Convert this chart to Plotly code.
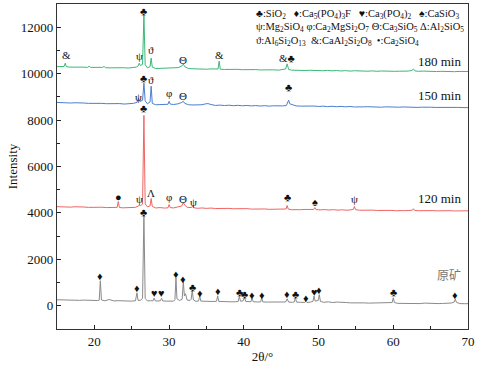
import plotly.graph_objects as go

# ---------------- data ----------------
gray_x = [
    15.0, 15.6, 16.2, 16.8, 17.4, 18.0, 18.6, 19.2, 19.8, 20.4,
    20.65, 20.8, 20.95, 21.4, 22.0, 22.6, 23.2, 23.8, 24.4, 25.0,
    25.5, 25.7, 25.85, 26.2, 26.45, 26.63, 26.8, 27.1, 27.5, 27.85,
    28.0, 28.15, 28.5, 28.85, 29.0, 29.15, 29.6, 30.1, 30.6, 30.78,
    30.92, 31.05, 31.4, 31.75, 31.9, 32.05, 32.2, 32.4, 32.8, 32.95,
    33.1, 33.25, 33.6, 33.95, 34.1, 34.25, 34.8, 35.4, 36.0, 36.35,
    36.5, 36.65, 37.2, 37.8, 38.4, 38.9, 39.25, 39.4, 39.55, 39.9,
    40.1, 40.25, 40.6, 40.95, 41.1, 41.25, 41.8, 42.25, 42.4, 42.55,
    43.2, 43.8, 44.4, 45.0, 45.6, 45.8, 46.0, 46.5, 46.75, 46.9,
    47.05, 47.6, 48.15, 48.3, 48.45, 48.9, 49.25, 49.4, 49.55, 49.95,
    50.1, 50.25, 50.7, 51.3, 51.9, 52.5, 53.1, 53.7, 54.3, 54.9,
    55.5, 56.1, 56.7, 57.3, 57.9, 58.5, 59.1, 59.6, 59.85, 60.0,
    60.15, 60.6, 61.2, 61.8, 62.4, 63.0, 63.6, 64.2, 64.8, 65.4,
    66.0, 66.6, 67.2, 67.8, 68.15, 68.3, 68.45, 68.9, 69.5, 70.0]
gray_y = [
    260, 250, 255, 240, 250, 235, 245, 230, 240, 225,
    240, 1080, 250, 215, 270, 210, 220, 205, 215, 200,
    215, 560, 230, 240, 330, 3900, 320, 210, 220, 215,
    330, 210, 205, 220, 320, 210, 200, 215, 200, 260,
    1200, 300, 230, 280, 1040, 420, 520, 250, 230, 280,
    650, 250, 190, 210, 430, 200, 190, 180, 185, 200,
    430, 190, 175, 180, 170, 175, 190, 400, 200, 210,
    360, 190, 170, 175, 330, 175, 165, 170, 330, 165,
    160, 165, 155, 160, 165, 300, 160, 150, 165, 350,
    160, 150, 145, 190, 140, 160, 190, 420, 200, 230,
    480, 190, 150, 170, 140, 160, 135, 140, 125, 135,
    120, 125, 115, 120, 110, 115, 105, 110, 140, 345,
    140, 105, 100, 110, 100, 105, 95, 115, 100, 105,
    95, 100, 95, 120, 160, 290, 150, 95, 90, 90]

red_x = [
    15.0, 15.6, 16.2, 16.8, 17.4, 18.0, 18.6, 19.2, 19.8, 20.4,
    21.0, 21.6, 22.2, 22.8, 23.05, 23.2, 23.35, 23.8, 24.4, 25.0,
    25.5, 25.85, 26.0, 26.15, 26.45, 26.63, 26.8, 27.1, 27.45, 27.6,
    27.75, 28.2, 28.8, 29.4, 29.85, 30.0, 30.15, 30.6, 31.2, 31.7,
    31.9, 32.1, 32.5, 33.05, 33.2, 33.35, 33.8, 34.4, 35.0, 35.6,
    36.2, 36.8, 37.4, 38.0, 38.6, 39.2, 39.8, 40.4, 41.0, 41.6,
    42.2, 42.8, 43.4, 44.0, 44.6, 45.2, 45.65, 45.8, 45.95, 46.4,
    47.0, 47.6, 48.2, 48.8, 49.35, 49.5, 49.65, 50.2, 50.8, 51.4,
    52.0, 52.6, 53.2, 53.8, 54.4, 54.65, 54.8, 54.95, 55.5, 56.1,
    56.7, 57.3, 57.9, 58.5, 59.1, 59.7, 60.3, 60.9, 61.5, 62.1,
    62.55, 62.7, 62.85, 63.4, 64.0, 64.6, 65.2, 65.8, 66.4, 67.0,
    67.6, 68.2, 68.8, 69.4, 70.0]
red_y = [
    4270, 4260, 4275, 4250, 4265, 4245, 4255, 4240, 4250, 4235,
    4245, 4230, 4240, 4225, 4240, 4490, 4235, 4220, 4230, 4215,
    4240, 4290, 4330, 4310, 4380, 8200, 4390, 4260, 4300, 4620,
    4280, 4215, 4230, 4210, 4220, 4360, 4230, 4215, 4250, 4300,
    4450, 4330, 4230, 4240, 4320, 4220, 4200, 4215, 4195, 4210,
    4190, 4200, 4185, 4195, 4180, 4190, 4170, 4185, 4165, 4175,
    4160, 4170, 4155, 4165, 4150, 4160, 4170, 4320, 4165, 4140,
    4155, 4140, 4150, 4135, 4150, 4230, 4145, 4130, 4145, 4125,
    4140, 4120, 4135, 4115, 4130, 4150, 4280, 4140, 4115, 4125,
    4110, 4120, 4105, 4115, 4100, 4110, 4095, 4110, 4100, 4105,
    4120, 4180, 4110, 4095, 4105, 4090, 4100, 4090, 4100, 4090,
    4095, 4085, 4095, 4085, 4090]

blue_x = [
    15.0, 15.6, 16.2, 16.8, 17.4, 18.0, 18.6, 19.2, 19.8, 20.4,
    21.0, 21.6, 22.2, 22.8, 23.4, 24.0, 24.6, 25.2, 25.7, 25.9,
    26.1, 26.45, 26.63, 26.8, 27.1, 27.45, 27.6, 27.75, 28.2, 28.8,
    29.4, 29.85, 30.0, 30.15, 30.6, 31.2, 31.7, 31.9, 32.1, 32.6,
    33.2, 33.8, 34.4, 34.9, 35.2, 35.6, 36.2, 36.8, 37.4, 38.0,
    38.6, 39.2, 39.8, 40.4, 41.0, 41.6, 42.2, 42.8, 43.4, 44.0,
    44.6, 45.2, 45.7, 45.85, 46.0, 46.15, 46.5, 47.0, 47.6, 48.2,
    48.8, 49.4, 50.0, 50.6, 51.2, 51.8, 52.4, 53.0, 53.6, 54.2,
    54.8, 55.4, 56.0, 56.6, 57.2, 57.8, 58.4, 59.0, 59.6, 60.2,
    60.8, 61.4, 62.0, 62.6, 63.2, 63.8, 64.4, 65.0, 65.6, 66.2,
    66.8, 67.4, 68.0, 68.6, 69.2, 70.0]
blue_y = [
    8760, 8745, 8755, 8735, 8745, 8725, 8735, 8720, 8730, 8710,
    8720, 8705, 8715, 8700, 8710, 8690, 8700, 8720, 8760, 8940,
    8800, 8850, 9590, 8830, 8700, 8780, 9460, 8720, 8660, 8670,
    8650, 8680, 8810, 8690, 8670, 8700, 8760, 8810, 8720, 8660,
    8650, 8640, 8660, 8700, 8710, 8670, 8630, 8645, 8625, 8640,
    8620, 8635, 8615, 8630, 8610, 8625, 8605, 8620, 8600, 8615,
    8600, 8610, 8630, 8720, 8860, 8700, 8650, 8610, 8600, 8610,
    8590, 8605, 8585, 8600, 8580, 8595, 8575, 8590, 8570, 8585,
    8565, 8580, 8570, 8575, 8560, 8575, 8555, 8570, 8560, 8570,
    8555, 8565, 8550, 8560, 8545, 8555, 8540, 8555, 8545, 8550,
    8540, 8550, 8535, 8545, 8540, 8535]

green_x = [
    15.0, 15.5, 15.95, 16.1, 16.25, 16.7, 17.3, 17.9, 18.5, 19.1,
    19.3, 19.5, 20.1, 20.7, 21.1, 21.3, 21.5, 22.1, 22.7, 23.3,
    23.9, 24.5, 25.1, 25.6, 25.85, 26.0, 26.15, 26.45, 26.63, 26.8,
    27.1, 27.45, 27.6, 27.75, 28.2, 28.8, 29.4, 30.0, 30.6, 31.2,
    31.7, 31.9, 32.1, 32.6, 33.2, 33.8, 34.4, 35.0, 35.6, 36.2,
    36.55, 36.7, 36.85, 37.4, 38.0, 38.6, 39.2, 39.8, 40.4, 41.0,
    41.6, 42.2, 42.8, 43.4, 44.0, 44.6, 45.2, 45.6, 45.8, 46.0,
    46.4, 47.0, 47.6, 48.2, 48.8, 49.4, 50.0, 50.6, 51.2, 51.8,
    52.4, 53.0, 53.6, 54.2, 54.8, 55.4, 56.0, 56.6, 57.2, 57.8,
    58.4, 59.0, 59.6, 60.2, 60.8, 61.4, 62.0, 62.5, 62.7, 62.9,
    63.4, 64.0, 64.6, 65.2, 65.8, 66.4, 67.0, 67.6, 68.2, 68.8,
    69.4, 70.0]
green_y = [
    10300, 10290, 10310, 10450, 10300, 10280, 10290, 10270, 10280, 10270,
    10320, 10270, 10265, 10260, 10270, 10310, 10255, 10250, 10260, 10245,
    10255, 10240, 10250, 10280, 10330, 10450, 10350, 10400, 12530, 10380,
    10250, 10300, 10670, 10280, 10220, 10230, 10210, 10220, 10230, 10260,
    10330, 10410, 10300, 10220, 10210, 10200, 10210, 10190, 10205, 10185,
    10200, 10540, 10190, 10180, 10190, 10175, 10185, 10170, 10180, 10165,
    10175, 10160, 10170, 10155, 10165, 10150, 10165, 10200, 10420, 10180,
    10150, 10140, 10150, 10135, 10145, 10130, 10145, 10125, 10140, 10120,
    10135, 10115, 10130, 10110, 10125, 10110, 10120, 10105, 10120, 10100,
    10115, 10100, 10110, 10100, 10105, 10100, 10110, 10140, 10200, 10120,
    10100, 10110, 10095, 10105, 10090, 10100, 10090, 10095, 10085, 10095,
    10085, 10090]

# peak identification marks (2θ, intensity at mark, symbol)
mark_x = [20.8, 25.7, 26.63, 28.0, 29.0, 30.9, 31.9, 33.1, 34.1, 36.5,
          39.4, 40.1, 41.1, 42.4, 45.8, 46.9, 48.3, 49.4, 50.1, 60.0, 68.3,
          23.2, 26.0, 26.63, 27.6, 30.0, 31.9, 33.2, 45.8, 49.5, 54.8,
          25.9, 26.63, 27.6, 30.0, 31.9, 46.0,
          16.3, 26.0, 26.63, 27.6, 31.9, 36.7, 45.8]
mark_y = [1300, 780, 4060, 560, 560, 1380, 1170, 820, 560, 650,
          600, 520, 475, 475, 520, 520, 345, 600, 690, 600, 475,
          4700, 4600, 8510, 4840, 4700, 4620, 4450, 4670, 4490, 4580,
          8990, 9800, 9720, 9160, 9030, 9420,
          10800, 10760, 12700, 11020, 10580, 10800, 10670]
mark_t = ["♦", "♦", "♣", "♥", "♥", "♦", "♦", "♣", "♦", "♦",
          "♣", "♣", "♦", "♦", "♦", "♣", "♦", "♥", "♦", "♣", "♦",
          "●", "ψ", "♣", "Λ", "φ", "Θ", "ψ", "♣", "♠", "ψ",
          "ψ", "♣", "ϑ", "φ", "Θ", "♣",
          "&", "ψ", "♣", "ϑ", "Θ", "&", "&♣"]

y_tick_vals = [0, 2000, 4000, 6000, 8000, 10000, 12000]
x_tick_vals = [20, 30, 40, 50, 60, 70]

series_names = ["原矿", "120 min", "150 min", "180 min"]
series_label_y = [1340, 4620, 9070, 10540]

EN = "\u2002"
GAP1 = EN + " "
legend_lines = [
    "♣:SiO<sub>2</sub>" + GAP1 + "♦:Ca<sub>5</sub>(PO<sub>4</sub>)<sub>3</sub>F" + GAP1
    + "♥:Ca<sub>3</sub>(PO<sub>4</sub>)<sub>2</sub>" + GAP1 + "♠:CaSiO<sub>3</sub>",
    "ψ:Mg<sub>2</sub>SiO<sub>4</sub> φ:Ca<sub>2</sub>MgSi<sub>2</sub>O<sub>7</sub> Θ:Ca<sub>3</sub>SiO<sub>5</sub> Δ:Al<sub>2</sub>SiO<sub>5</sub>",
    "ϑ:Al<sub>6</sub>Si<sub>2</sub>O<sub>13</sub>" + EN + "&:CaAl<sub>2</sub>Si<sub>2</sub>O<sub>8</sub>" + EN + "•:Ca<sub>2</sub>SiO<sub>4</sub>",
]

# ---------------- figure ----------------
SERIF = "Liberation Serif"
fig = go.Figure()
for xs, ys, col, nm in [(gray_x, gray_y, "#8a8a8a", series_names[0]),
                        (red_x, red_y, "#f06464", series_names[1]),
                        (blue_x, blue_y, "#4a7fd0", series_names[2]),
                        (green_x, green_y, "#3cb878", series_names[3])]:
    fig.add_trace(go.Scatter(x=xs, y=ys, mode="lines", name=nm,
                             line=dict(color=col, width=1), showlegend=False))

ann = []
for mx, my, mt in zip(mark_x, mark_y, mark_t):
    ann.append(dict(x=mx, y=my, text=mt, showarrow=False, xref="x", yref="y",
                    xanchor="center", yanchor="middle",
                    font=dict(family=SERIF, size=11, color="#111")))
for nm, ly in zip(series_names, series_label_y):
    is_cn = nm == "原矿"
    ann.append(dict(x=69.3, y=ly, text=nm, showarrow=False, xref="x", yref="y",
                    xanchor="right", yanchor="middle",
                    font=dict(family="Noto Sans CJK SC" if is_cn else SERIF,
                              size=12 if is_cn else 13,
                              color="#777" if is_cn else "#111")))
for i, line in enumerate(legend_lines):
    ann.append(dict(x=0.48, y=[0.969, 0.929, 0.886][i], text=line, showarrow=False,
                    xref="paper", yref="paper", xanchor="left", yanchor="middle",
                    font=dict(family=SERIF, size=10.5, color="#111")))

fig.update_layout(
    width=481, height=367,
    margin=dict(l=57, r=13, t=4, b=38),
    paper_bgcolor="white", plot_bgcolor="white",
    font=dict(family=SERIF, size=13, color="#111"),
    annotations=ann,
)
fig.update_xaxes(range=[15, 70], tickvals=x_tick_vals, ticktext=[str(v) for v in x_tick_vals],
                 ticks="inside", ticklen=4, tickcolor="#222",
                 minor=dict(tickvals=[25, 35, 45, 55, 65], ticks="inside", ticklen=3, tickcolor="#222"),
                 showline=True, linecolor="#333", linewidth=1.3, mirror=True,
                 showgrid=False, zeroline=False, automargin=False,
                 title=dict(text="2θ/°", font=dict(family=SERIF, size=13), standoff=4),
                 tickfont=dict(family=SERIF, size=13))
fig.update_yaxes(range=[-1000, 13000], tickvals=y_tick_vals, ticktext=[str(v) for v in y_tick_vals],
                 ticks="inside", ticklen=4, tickcolor="#222",
                 minor=dict(tickvals=[-1000, 1000, 3000, 5000, 7000, 9000, 11000], ticks="inside", ticklen=3, tickcolor="#222"),
                 showline=True, linecolor="#333", linewidth=1.3, mirror=True,
                 showgrid=False, zeroline=False, automargin=False,
                 title=dict(text="Intensity", font=dict(family=SERIF, size=13), standoff=0),
                 tickfont=dict(family=SERIF, size=13))

fig.write_html("out.html", config={"displayModeBar": False},
               post_script="document.body.style.margin='0';")
